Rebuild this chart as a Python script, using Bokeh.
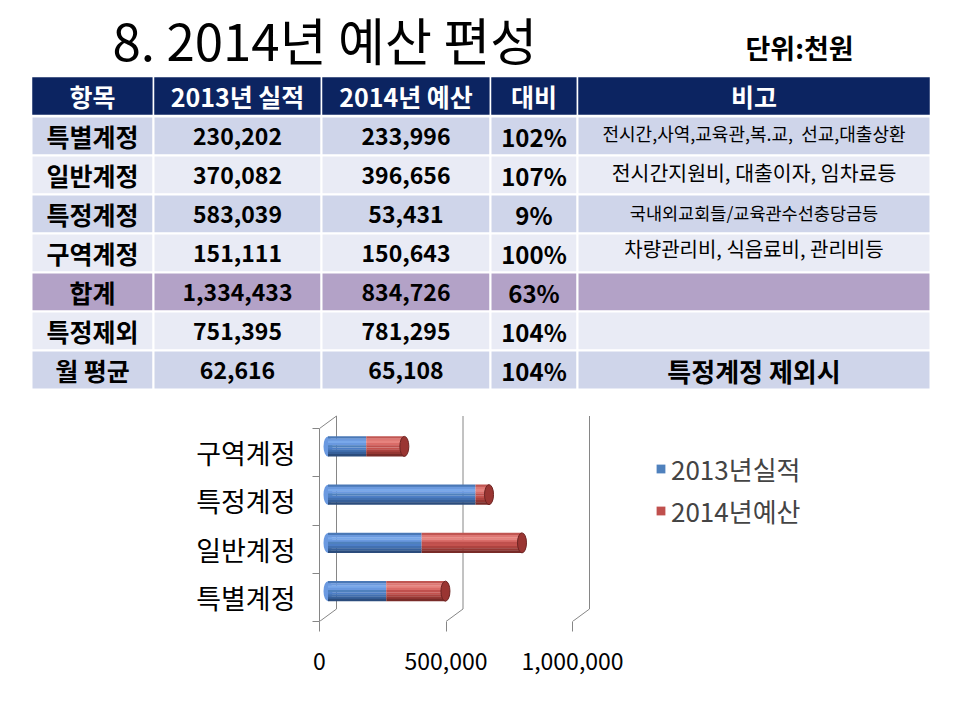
from bokeh.plotting import figure
from bokeh.models import (Range1d, ColumnDataSource, FixedTicker, LinearAxis, Legend,
                          LegendItem, NumeralTickFormatter)
from bokeh.layouts import column
from bokeh.core.properties import value
from bokeh.embed import file_html
from bokeh.resources import INLINE

# ---------------- data ----------------
title_text = "8. 2014년 예산 편성"
unit_text = "단위:천원"
headers = ["항목", "2013년 실적", "2014년 예산", "대비", "비고"]
items = ["특별계정", "일반계정", "특정계정", "구역계정", "합계", "특정제외", "월 평균"]
actual_2013 = [230202, 370082, 583039, 151111, 1334433, 751395, 62616]
budget_2014 = [233996, 396656, 53431, 150643, 834726, 781295, 65108]
ratios = ["102%", "107%", "9%", "100%", "63%", "104%", "104%"]
notes = ["전시간,사역,교육관,복.교,\u00a0 선교,대출상환",
         "전시간지원비, 대출이자, 임차료등",
         "국내외교회들/교육관수선충당금등",
         "차량관리비, 식음료비, 관리비등",
         "", "", "특정계정 제외시"]
chart_categories = items[:4]
chart_2013 = actual_2013[:4]
chart_2014 = budget_2014[:4]
series_names = ["2013년실적", "2014년예산"]
x_ticks = [0, 500000, 1000000]

# ---------------- styles / layout ----------------
FONT = "Noto Sans CJK KR"
NAVY = "#0C2461"
ROW_FILLS = ["#CFD5EA", "#E9EBF5", "#CFD5EA", "#E9EBF5", "#B3A2C7", "#E9EBF5", "#CFD5EA"]
COL_EDGES = [31, 153, 321, 490, 577, 930]
HEADER_TOP, HEADER_BOTTOM = 76, 115
ROW_TOP, ROW_H = 116, 39
COL_SIZES = ["25px", "23px", "23px", "24px"]
NOTE_SIZES = ["18px", "20.5px", "17.5px", "20px", "20px", "20px", "26px"]
NOTE_STYLES = ["normal", "normal", "normal", "normal", "normal", "normal", "bold"]
NOTE_DY = [-3, -3, -2, -5, 0, 0, 0]
GRID = "#868686"
BLUE_SHADES = ["#4a78b6", "#6c9ade", "#79a8ea", "#6a99e0", "#4F81BD", "#4d7ec6", "#4270b0", "#37609a", "#2b4c7c"]
RED_SHADES = ["#c05652", "#de7874", "#e6837e", "#da6c68", "#C0504D", "#c4524e", "#ad433f", "#953733", "#782b28"]
MID = 4

# ---------------- figure 1: title + table ----------------
P1_H = 395
p1 = figure(width=944, height=P1_H, x_range=Range1d(0, 944), y_range=Range1d(P1_H, 0),
            output_backend="svg", toolbar_location=None, min_border=0,
            x_axis_type=None, y_axis_type=None)
p1.frame_align = False
p1.outline_line_color = None
p1.grid.visible = False

p1.text(x=[112], y=[38], text=[title_text], text_font=value(FONT), text_font_size="51px",
        text_align="left", text_baseline="middle", text_color="black")
p1.text(x=[745], y=[47], text=[unit_text], text_font=value(FONT), text_font_size="27px",
        text_font_style="bold", text_align="left", text_baseline="middle", text_color="black")

# header
p1.quad(left=COL_EDGES[:-1], right=COL_EDGES[1:], top=[HEADER_TOP] * 5, bottom=[HEADER_BOTTOM] * 5,
        fill_color=NAVY, line_color="white", line_width=1.5)
centers = [(a + b) / 2 for a, b in zip(COL_EDGES[:-1], COL_EDGES[1:])]
p1.text(x=centers, y=[(HEADER_TOP + HEADER_BOTTOM) / 2] * 5, text=headers, text_font=value(FONT),
        text_font_size="25px", text_font_style="bold", text_color="white",
        text_align="center", text_baseline="middle")

# body cells
n_rows = len(items)
cl, cr, ct, cb, cf = [], [], [], [], []
for r in range(n_rows):
    for c in range(5):
        cl.append(COL_EDGES[c]); cr.append(COL_EDGES[c + 1])
        ct.append(ROW_TOP + r * ROW_H); cb.append(ROW_TOP + (r + 1) * ROW_H)
        cf.append(ROW_FILLS[r])
p1.quad(left=cl, right=cr, top=ct, bottom=cb, fill_color=cf, line_color="white", line_width=2)

tx, ty, tt, ts = [], [], [], []
for r in range(n_rows):
    yc = ROW_TOP + r * ROW_H + ROW_H / 2
    for c, s in enumerate([items[r], f"{actual_2013[r]:,}", f"{budget_2014[r]:,}", ratios[r]]):
        tx.append(centers[c]); ty.append(yc); tt.append(s); ts.append(COL_SIZES[c])
body_src = ColumnDataSource(dict(x=tx, y=ty, text=tt, size=ts))
p1.text(x="x", y="y", text="text", source=body_src, text_font=value(FONT), text_font_size="size",
        text_font_style="bold", text_color="black", text_align="center", text_baseline="middle")

note_src = ColumnDataSource(dict(
    x=[centers[4]] * n_rows,
    y=[ROW_TOP + r * ROW_H + ROW_H / 2 + NOTE_DY[r] for r in range(n_rows)],
    text=notes, size=NOTE_SIZES, style=NOTE_STYLES))
p1.text(x="x", y="y", text="text", source=note_src, text_font=value(FONT),
        text_font_size="size", text_font_style="style", text_color="black",
        text_align="center", text_baseline="middle")

# ---------------- figure 2: 3D-style stacked bar chart ----------------
P2_H = 309
FRAME_LEFT, FRAME_TOP, FRAME_BOTTOM = 319, 408, 621   # page pixels
PX_PER_MILLION = 253.0        # screen px per 1,000,000
PX_PER_CAT = 48.25
FRAME_W = 944 - FRAME_LEFT
FRAME_H = FRAME_BOTTOM - FRAME_TOP
x_end = 1_000_000 * FRAME_W / PX_PER_MILLION
y_end = FRAME_H / PX_PER_CAT
DX = 17 / PX_PER_MILLION * 1_000_000   # depth offset in x (data units)
DY = 12.5 / PX_PER_CAT                 # depth offset in y (category units)
BAR_H = 20 / PX_PER_CAT

p2 = figure(width=944, height=P2_H, x_range=Range1d(0, x_end), y_range=Range1d(0, y_end),
            output_backend="svg", toolbar_location=None,
            min_border_left=FRAME_LEFT, min_border_right=0,
            min_border_top=FRAME_TOP - P1_H, min_border_bottom=P1_H + P2_H - FRAME_BOTTOM,
            x_axis_type=None, y_axis_type=None)
p2.frame_align = False
p2.outline_line_color = None
p2.grid.visible = False

n_cat = len(chart_categories)
# back wall gridlines and depth diagonals
p2.segment(x0=[t + DX for t in x_ticks], y0=[DY] * 3, x1=[t + DX for t in x_ticks], y1=[n_cat + DY] * 3,
           line_color=GRID, line_width=1)
p2.segment(x0=x_ticks, y0=[0] * 3, x1=[t + DX for t in x_ticks], y1=[DY] * 3, line_color=GRID, line_width=1)
p2.segment(x0=[0], y0=[n_cat], x1=[DX], y1=[n_cat + DY], line_color=GRID, line_width=1)

ys = [i + 0.5 + DY / 2 for i in range(n_cat)]
left_blue = [DX / 2] * n_cat
right_blue = [DX / 2 + v for v in chart_2013]
right_red = [rb + v for rb, v in zip(right_blue, chart_2014)]

# left rounded ends
p2.ellipse(x=left_blue, y=ys, width=9, width_units="screen", height=BAR_H,
           fill_color=BLUE_SHADES[3], line_color=None)
strip = BAR_H / len(BLUE_SHADES)
leg = {}
for k in range(len(BLUE_SHADES)):
    yk = [y + BAR_H / 2 - strip * (k + 0.5) for y in ys]
    rb = p2.hbar(y=yk, left=left_blue, right=right_blue, height=strip * 1.1,
                 fill_color=BLUE_SHADES[k], line_color=None)
    rr = p2.hbar(y=yk, left=right_blue, right=right_red, height=strip * 1.1,
                 fill_color=RED_SHADES[k], line_color=None)
    if k == MID:
        leg["b"], leg["r"] = rb, rr
# right end caps
p2.ellipse(x=right_red, y=ys, width=9, width_units="screen", height=BAR_H,
           fill_color="#9a3532", line_color="#6e2422", line_width=1)

# axes
xaxis = LinearAxis(ticker=FixedTicker(ticks=x_ticks), formatter=NumeralTickFormatter(format="0,0"),
                   axis_line_color=None, major_tick_line_color=GRID, major_tick_in=0, major_tick_out=10,
                   minor_tick_line_color=None, major_label_text_font=FONT,
                   major_label_text_font_size="23px", major_label_standoff=21,
                   major_label_text_color="black")
p2.add_layout(xaxis, "below")

cat_ticks = [i + 0.5 for i in range(n_cat)]
yaxis = LinearAxis(ticker=FixedTicker(ticks=cat_ticks, minor_ticks=list(range(n_cat + 1))),
                   bounds=(0, n_cat),
                   major_label_overrides={t: c for t, c in zip(cat_ticks, chart_categories)},
                   axis_line_color=GRID, major_tick_line_color=None, major_tick_in=0, major_tick_out=0,
                   minor_tick_line_color=GRID, minor_tick_in=0, minor_tick_out=7,
                   major_label_text_font=FONT, major_label_text_font_size="27px",
                   major_label_standoff=17, major_label_text_color="black")
p2.add_layout(yaxis, "left")

legend = Legend(items=[LegendItem(label=series_names[0], renderers=[leg["b"]]),
                       LegendItem(label=series_names[1], renderers=[leg["r"]])],
                location=(336, 92), orientation="vertical", glyph_width=11, glyph_height=11,
                label_text_font=FONT, label_text_font_size="26px", label_height=25,
                label_standoff=5, spacing=5, padding=0, margin=0,
                border_line_color=None, background_fill_alpha=0)
p2.add_layout(legend)

layout = column(p1, p2, spacing=0)
open("out.html", "w").write(file_html(layout, INLINE))
